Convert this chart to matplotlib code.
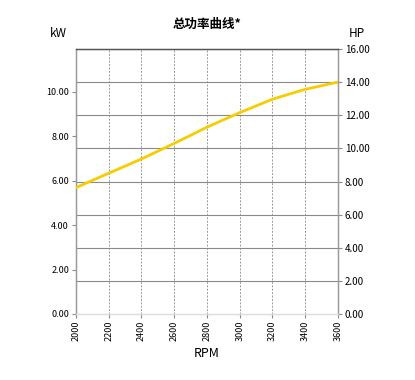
import numpy as np
import matplotlib
matplotlib.use("Agg")
import matplotlib.pyplot as plt

plt.rcParams['font.family'] = ['Noto Sans CJK SC', 'DejaVu Sans']

# data
rpm = [2000, 2200, 2400, 2600, 2800, 3000, 3200, 3400, 3600]
power_hp = [7.63, 8.5, 9.36, 10.3, 11.28, 12.16, 12.97, 13.57, 14.0]
kw_ticks = [0, 2, 4, 6, 8, 10]
hp_ticks = [0, 2, 4, 6, 8, 10, 12, 14, 16]
HP_TO_KW = 0.7457

fig = plt.figure(figsize=(4.15, 3.8), dpi=100)
ax = fig.add_axes([0.183, 0.1737, 0.6315, 0.6973])
ax2 = ax.twinx()

ax.set_xlim(2000, 3600)
ax.set_ylim(0, 16 * HP_TO_KW)
ax2.set_ylim(0, 16)

# grid: horizontal lines follow HP ticks, vertical dashed at each rpm tick
for h in hp_ticks[1:]:
    ax2.axhline(h, color='#8a8a8a', lw=0.8, zorder=1)
for r in rpm[1:-1]:
    ax.axvline(r, color='#9a9a9a', lw=0.7, ls=(0, (2, 1.5)), zorder=1)

ax2.plot(rpm, power_hp, color='#f5cd00', lw=2, zorder=3, solid_joinstyle='round')

ax.set_xticks(rpm)
ax.set_xticklabels([str(r) for r in rpm], rotation=90, fontsize=6.5)
ax.set_yticks(kw_ticks)
ax.set_yticklabels([f"{v:.2f}" for v in kw_ticks], fontsize=6.5)
ax2.set_yticks(hp_ticks)
ax2.set_yticklabels([f"{v:.2f}" for v in hp_ticks], fontsize=7)

for a in (ax, ax2):
    a.tick_params(length=3, width=0.8, color='#8a8a8a', pad=2)
    for s in a.spines.values():
        s.set_color('#9a9a9a')
        s.set_linewidth(0.9)
    a.spines['top'].set_color('#555555')
    a.spines['bottom'].set_color('#dddddd')

ax.set_xlabel('RPM', fontsize=9, labelpad=4)
fig.text(0.5, 0.935, '总功率曲线*', ha='center', va='center',
         fontsize=9, fontweight='bold')
fig.text(0.14, 0.913, 'kW', ha='center', va='center', fontsize=8.5)
fig.text(0.86, 0.913, 'HP', ha='center', va='center', fontsize=8.5)

fig.savefig('out.png', dpi=100)
